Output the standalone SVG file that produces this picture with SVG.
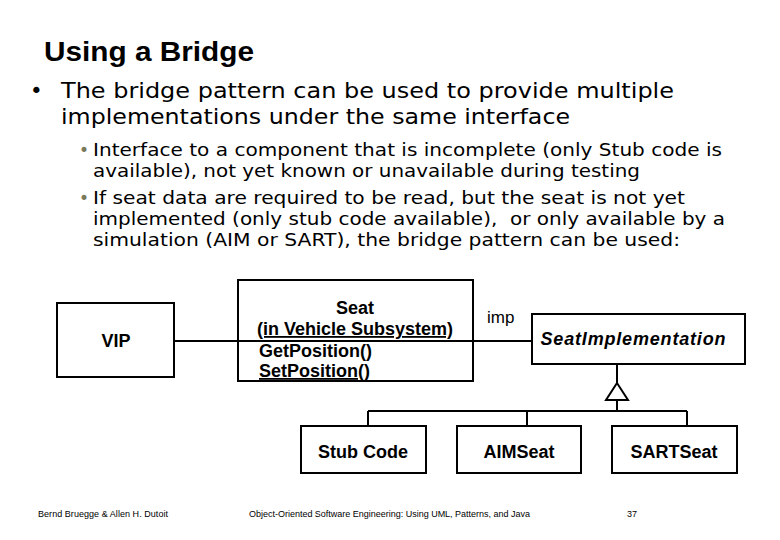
<svg xmlns="http://www.w3.org/2000/svg" width="780" height="540" viewBox="0 0 780 540">
<defs>
<style>
.title{font-family:"Liberation Sans",Arial,sans-serif;font-weight:bold;font-size:27px;fill:#000}
.b1{font-family:"DejaVu Sans",Verdana,sans-serif;font-size:21.5px;fill:#000}
.b2{font-family:"DejaVu Sans",Verdana,sans-serif;font-size:18px;fill:#000}
.dot2{font-family:"DejaVu Sans",Verdana,sans-serif;font-size:17px;fill:#7a7a5a}
.lbl{font-family:"Liberation Sans",Arial,sans-serif;font-weight:bold;font-size:18px;fill:#000}
.imp{font-family:"Liberation Sans",Arial,sans-serif;font-size:17px;fill:#000}
.foot{font-family:"Liberation Sans",Arial,sans-serif;font-size:9px;fill:#000}
.box{fill:#fff;stroke:#000;stroke-width:2}
.ln{fill:none;stroke:#000;stroke-width:2}
</style>
</defs>
<rect width="780" height="540" fill="#fff"/>
<text class="title" x="44" y="61" textLength="210" lengthAdjust="spacingAndGlyphs">Using a Bridge</text>
<text class="b1" x="30" y="98">•</text>
<text class="b1" x="61" y="98" textLength="613" lengthAdjust="spacingAndGlyphs">The bridge pattern can be used to provide multiple</text>
<text class="b1" x="61" y="124" textLength="509" lengthAdjust="spacingAndGlyphs">implementations under the same interface</text>
<text class="dot2" x="79" y="156">•</text>
<text class="b2" x="93" y="156" textLength="629" lengthAdjust="spacingAndGlyphs">Interface to a component that is incomplete (only Stub code is</text>
<text class="b2" x="93" y="177" textLength="547" lengthAdjust="spacingAndGlyphs">available), not yet known or unavailable during testing</text>
<text class="dot2" x="79" y="204">•</text>
<text class="b2" x="93" y="204" textLength="592" lengthAdjust="spacingAndGlyphs">If seat data are required to be read, but the seat is not yet</text>
<text class="b2" x="93" y="225" textLength="632" lengthAdjust="spacingAndGlyphs" xml:space="preserve">implemented (only stub code available),  or only available by a</text>
<text class="b2" x="93" y="246" textLength="587" lengthAdjust="spacingAndGlyphs">simulation (AIM or SART), the bridge pattern can be used:</text>

<g id="connectors">
<line class="ln" x1="174" y1="341" x2="239" y2="341"/>
<line class="ln" x1="473" y1="341" x2="532" y2="341"/>
<line class="ln" x1="617" y1="364" x2="617" y2="383"/>
<polygon points="617,383 606,400 628,400" fill="#fff" stroke="#000" stroke-width="2"/>
<path class="ln" d="M617,400 V411 M368,411 H687 M368,411 V426 M527,411 V426 M687,411 V426"/>
<text class="imp" x="487" y="323">imp</text>
</g>

<g id="vip">
<rect class="box" x="57" y="303" width="117" height="74"/>
<text class="lbl" x="116" y="347" text-anchor="middle">VIP</text>
</g>

<g id="seat">
<rect class="box" x="238" y="280" width="235" height="101"/>
<line class="ln" x1="238" y1="341" x2="473" y2="341"/>
<text class="lbl" x="355" y="314" text-anchor="middle">Seat</text>
<text class="lbl" x="355" y="335" text-anchor="middle" text-decoration="underline">(in Vehicle Subsystem)</text>
<text class="lbl" x="259" y="357">GetPosition()</text>
<text class="lbl" x="259" y="377" text-decoration="underline">SetPosition()</text>
</g>

<g id="seatImplementation">
<rect class="box" x="532" y="314" width="213" height="50"/>
<text class="lbl" x="633" y="345" text-anchor="middle" font-style="italic" textLength="185">SeatImplementation</text>
</g>

<g id="stubCode">
<rect class="box" x="301" y="426" width="125" height="47"/>
<text class="lbl" x="363" y="458" text-anchor="middle">Stub Code</text>
</g>

<g id="aimSeat">
<rect class="box" x="457" y="426" width="124" height="47"/>
<text class="lbl" x="519" y="458" text-anchor="middle">AIMSeat</text>
</g>

<g id="sartSeat">
<rect class="box" x="612" y="426" width="125" height="47"/>
<text class="lbl" x="674" y="458" text-anchor="middle">SARTSeat</text>
</g>

<text class="foot" x="38" y="517" textLength="130">Bernd Bruegge &amp; Allen H. Dutoit</text>
<text class="foot" x="249" y="517" textLength="281">Object-Oriented Software Engineering: Using UML, Patterns, and Java</text>
<text class="foot" x="627" y="517">37</text>
</svg>
